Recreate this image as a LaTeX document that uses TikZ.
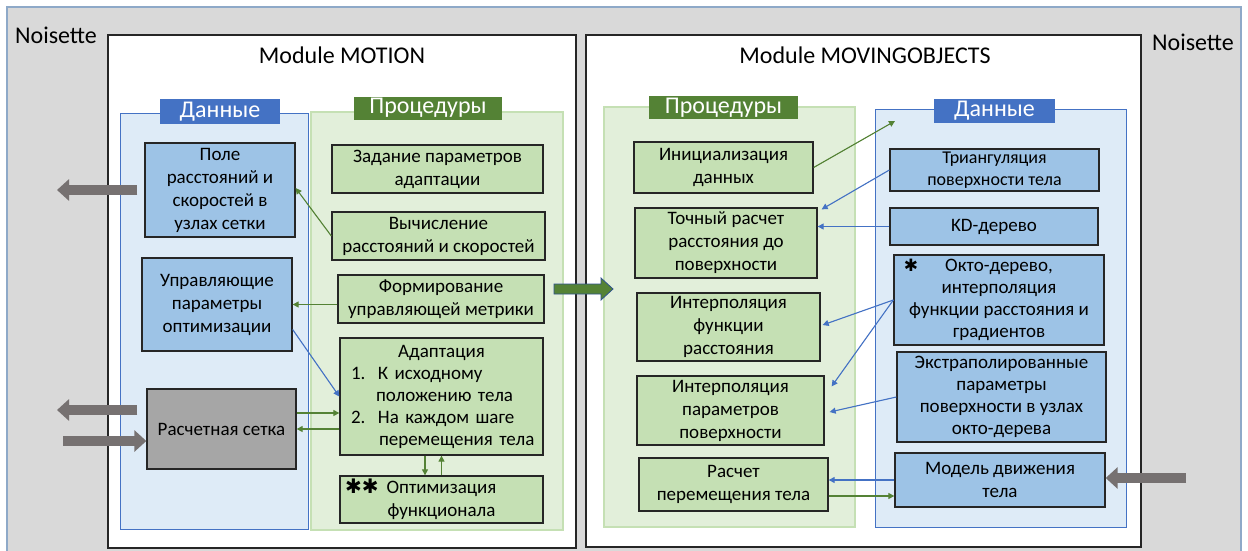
\documentclass[tikz,border=0pt]{standalone}
\usepackage{fontspec}
\setmainfont{Carlito}
\newfontfamily\symf{DejaVu Sans}
\usetikzlibrary{arrows.meta,calc}
\definecolor{bggray}{HTML}{D9D9D9}
\definecolor{bgborder}{HTML}{8EA9C8}
\definecolor{dpanel}{HTML}{DEEBF7}
\definecolor{dblue}{HTML}{4472C4}
\definecolor{ppanel}{HTML}{E2EFDA}
\definecolor{pborder}{HTML}{C5E0B4}
\definecolor{pdark}{HTML}{548235}
\definecolor{bluebox}{HTML}{9DC3E6}
\definecolor{greenbox}{HTML}{C5E0B4}
\definecolor{graybox}{HTML}{A6A6A6}
\definecolor{arrgray}{HTML}{767171}
\definecolor{arrgreen}{HTML}{548235}
\definecolor{arrblue}{HTML}{4472C4}
\definecolor{outlineblue}{HTML}{2F528F}
\newcommand{\boxfont}{\fontsize{19}{23}\selectfont}
\begin{document}
\begin{tikzpicture}[x=1pt,y=-1pt,
  wh/.style 2 args={minimum width=#1pt, minimum height=#2pt},
  module/.style={draw=black!85, fill=white, line width=1.5pt, inner sep=0pt},
  panelD/.style={fill=dpanel, draw=dblue, line width=1pt, inner sep=0pt},
  panelP/.style={fill=ppanel, draw=pborder, line width=1.5pt, inner sep=0pt},
  tabD/.style={fill=dblue, text=white, inner sep=0pt, font=\fontsize{24}{26}\selectfont},
  tabP/.style={fill=pdark, text=white, inner sep=0pt, font=\fontsize{24}{26}\selectfont},
  title/.style={inner sep=0pt, font=\fontsize{24}{28}\selectfont},
  anybox/.style={draw=black!85, line width=1.3pt, inner sep=0pt, align=center, font=\boxfont},
  bbox/.style={anybox, fill=bluebox},
  gbox/.style={anybox, fill=greenbox},
  kbox/.style={anybox, fill=graybox},
  thin/.style={line width=1.1pt, -{Triangle[length=6pt,width=6pt]}},
  garr/.style={thin, draw=arrgreen, fill=arrgreen},
  barr/.style={thin, draw=arrblue, fill=arrblue},
  fat/.style={line width=10pt, draw=arrgray, -{Triangle[length=12pt,width=21pt]}},
  bigarrow/.style={fill=pdark, draw=outlineblue, line width=0.8pt, line join=miter}
]
\useasboundingbox (0,0) rectangle (1248,551);
% outer Noisette frame
\fill[bggray] (7,7) rectangle (1241,551);
\draw[bgborder, line width=1.5pt] (7,551) -- (7,7) -- (1241,7) -- (1241,551);
\node[title] (noisL) at (56,35) {Noisette};
\node[title] (noisR) at (1193,42) {Noisette};

% modules
\node[module, wh={468}{513}] (modL) at (342,291.5) {};
\node[module, wh={555}{512}] (modR) at (863.5,291) {};
\node[title] (titL) at (342,55) {Module MOTION};
\node[title] (titR) at (865,55) {Module MOVINGOBJECTS};

% left panels
\node[panelD, wh={188}{416}] (ldata) at (214,321) {};
\node[panelP, wh={252}{418}] (lproc) at (437,321) {};
\node[tabD, wh={120}{25}] (ldtab) at (220,111.5) {Данные};
\node[tabP, wh={148}{23}] (lptab) at (428,108) {Процедуры};

% right panels
\node[panelP, wh={251}{420}] (rproc) at (729.5,317) {};
\node[panelD, wh={251}{418}] (rdata) at (1000.5,318) {};
\node[tabP, wh={149}{23}] (rptab) at (723.5,107.5) {Процедуры};
\node[tabD, wh={121}{24}] (rdtab) at (994.5,111) {Данные};

% left data boxes
\node[bbox, wh={150}{94}] (pole) at (220,190) {Поле\\расстояний и\\скоростей в\\узлах сетки};
\node[bbox, wh={150}{93}] (upr) at (217,304.5) {Управляющие\\параметры\\оптимизации};
\node[kbox, wh={149}{80}] (setka) at (221.5,429) {Расчетная сетка};

% left procedure boxes
\node[gbox, wh={211}{48}] (zad) at (437.5,169) {Задание параметров\\адаптации};
\node[gbox, wh={213}{48}] (vych) at (438.5,236) {Вычисление\\расстояний и скоростей};
\node[gbox, wh={206}{48}] (form) at (441,299) {Формирование\\управляющей метрики};
\node[gbox, wh={203}{117}, text width=181pt, align=left, font=\fontsize{19}{22}\selectfont] (adapt) at (441.5,396.5)
  {\makebox[\linewidth]{Адаптация}\\
   \makebox[27pt][l]{1.}\mbox{К исходному}\\
   \hspace*{25pt}\mbox{положению тела}\\
   \makebox[27pt][l]{2.}\mbox{На каждом шаге}\\
   \hspace*{28pt}\mbox{перемещения тела}};
\node[gbox, wh={203}{47}] (opt) at (441.5,499.5)
  {\llap{{\symf\fontsize{20}{20}\selectfont ✱✱}\hspace{8pt}}Оптимизация\\функционала};

% right procedure boxes
\node[gbox, wh={179}{51}] (init) at (723.5,167.5) {Инициализация\\данных};
\node[gbox, wh={182}{70}] (toch) at (726,243) {Точный расчет\\расстояния до\\поверхности};
\node[gbox, wh={183}{68}] (interpF) at (728.5,327) {Интерполяция\\функции\\расстояния};
\node[gbox, wh={187}{69}] (interpP) at (730.5,410.5) {Интерполяция\\параметров\\поверхности};
\node[gbox, wh={189}{53}] (rasch) at (733.5,484.5) {Расчет\\перемещения тела};

% right data boxes
\node[bbox, wh={209}{42}, font=\fontsize{18}{22}\selectfont] (triang) at (994.5,170) {Триангуляция\\поверхности тела};
\node[bbox, wh={208}{37}] (kd) at (994,226.5) {KD-дерево};
\node[bbox, wh={210}{90}, font=\fontsize{19}{22}\selectfont] (okto) at (999,300)
  {\llap{{\symf\fontsize{17}{18}\selectfont ✱}\hspace{27pt}}Окто-дерево,\\интерполяция\\функции расстояния и\\градиентов};
\node[bbox, wh={209}{90}, font=\fontsize{19}{22}\selectfont] (extra) at (1001.5,397) {Экстраполированные\\параметры\\поверхности в узлах\\окто-дерева};
\node[bbox, wh={210}{54}] (model) at (1000,480) {Модель движения\\тела};

% big gray arrows
\coordinate (outPole) at (57,190);
\coordinate (outSetka) at (57,410);
\coordinate (inSetka) at (63,441);
\coordinate (inModel) at (1186,478);
\draw[fat] ([xshift=-7pt]pole.west) -- (outPole);
\draw[fat] ([xshift=-9pt]setka.west |- outSetka) -- (outSetka);
\draw[fat] (inSetka) -- (inSetka -| setka.west);
\draw[fat] (inModel) -- (inModel -| model.east);

% big green arrow between modules
\draw[bigarrow] (554,284) -- (601,284) -- (601,278) -- (613,289) -- (601,300) -- (601,294) -- (554,294) -- cycle;

% left thin arrows
\draw[garr] (vych.west) -- ([yshift=2pt]pole.east);
\draw[garr] (form.west |- upr.east) -- (upr.east);
\draw[barr] ([yshift=-25pt]upr.east) -- (adapt.west);
\draw[garr] ([yshift=16pt]setka.east) -- ([yshift=16pt]setka.east -| adapt.west);
\draw[garr] (adapt.west |- setka.east) -- (setka.east);
\draw[garr] ([xshift=-16.5pt]adapt.south) -- ([xshift=-16.5pt]opt.north);
\draw[garr] (opt.north) -- (adapt.south);

% right thin arrows
\coordinate (dataIn) at (895,121);
\draw[garr] (init.east) -- (dataIn);
\draw[barr] (triang.west) -- ([xshift=4pt,yshift=-2pt]toch.north east);
\draw[barr] (kd.west) -- (kd.west -| toch.east);
\draw[barr] (okto.west) -- ([xshift=2pt,yshift=2pt]interpF.east);
\draw[barr] (okto.west) -- ([xshift=7pt,yshift=-11pt]interpP.north east);
\draw[barr] (extra.west) -- ([xshift=5pt,yshift=-1.5pt]interpP.east);
\draw[barr] ([yshift=4.5pt]rasch.east -| model.west) -- ([yshift=4.5pt]rasch.east);
\draw[garr] ([yshift=-11.5pt]rasch.east) -- ([yshift=-11.5pt]rasch.east -| model.west);
\end{tikzpicture}
\end{document}
